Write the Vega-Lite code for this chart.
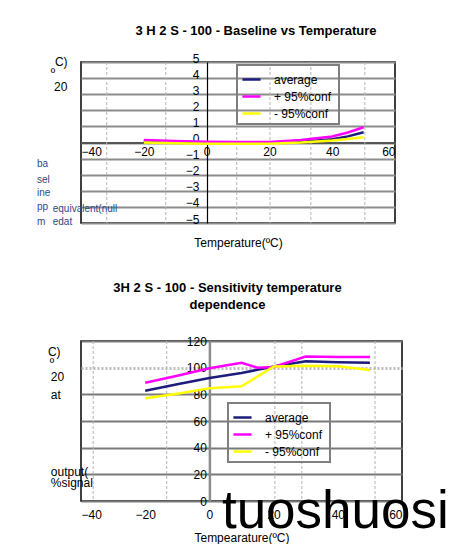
{
  "$schema": "https://vega.github.io/schema/vega-lite/v6.json",
  "background": "white",
  "padding": {"left": 36, "top": 24, "right": 0, "bottom": 0},
  "config": {
    "font": "Liberation Sans",
    "view": {"stroke": "black", "strokeWidth": 1.5},
    "axis": {
      "labelFont": "Liberation Sans", "labelFontSize": 12, "labelColor": "black",
      "ticks": false, "titleFont": "Liberation Sans", "titleFontSize": 12,
      "titleFontWeight": "normal", "titleColor": "black"
    },
    "legend": {
      "title": null, "orient": "none", "strokeColor": "#7f7f7f", "strokeWidth": 2,
      "padding": 4, "symbolType": "stroke", "symbolStrokeWidth": 2.5, "symbolSize": 330,
      "labelFont": "Liberation Sans", "labelFontSize": 12, "labelColor": "black",
      "rowPadding": -5, "labelOffset": 12
    },
    "title": {"font": "Liberation Sans", "fontSize": 13, "fontWeight": "bold", "color": "black", "frame": "group"}
  },
  "datasets": {
    "baseline": [
      {"temp": -20, "value": 0.08, "series": "average"},
      {"temp": -10, "value": 0.03, "series": "average"},
      {"temp": 0, "value": 0.0, "series": "average"},
      {"temp": 10, "value": 0.0, "series": "average"},
      {"temp": 20, "value": 0.0, "series": "average"},
      {"temp": 30, "value": 0.05, "series": "average"},
      {"temp": 40, "value": 0.2, "series": "average"},
      {"temp": 45, "value": 0.38, "series": "average"},
      {"temp": 50, "value": 0.64, "series": "average"},
      {"temp": -20, "value": 0.15, "series": "+  95%conf"},
      {"temp": -10, "value": 0.1, "series": "+  95%conf"},
      {"temp": 0, "value": 0.05, "series": "+  95%conf"},
      {"temp": 10, "value": 0.03, "series": "+  95%conf"},
      {"temp": 20, "value": 0.03, "series": "+  95%conf"},
      {"temp": 30, "value": 0.15, "series": "+  95%conf"},
      {"temp": 40, "value": 0.37, "series": "+  95%conf"},
      {"temp": 45, "value": 0.62, "series": "+  95%conf"},
      {"temp": 50, "value": 0.95, "series": "+  95%conf"},
      {"temp": -20, "value": 0.0, "series": "-  95%conf"},
      {"temp": -10, "value": -0.05, "series": "-  95%conf"},
      {"temp": 0, "value": -0.07, "series": "-  95%conf"},
      {"temp": 10, "value": -0.08, "series": "-  95%conf"},
      {"temp": 20, "value": -0.07, "series": "-  95%conf"},
      {"temp": 30, "value": 0.0, "series": "-  95%conf"},
      {"temp": 40, "value": 0.12, "series": "-  95%conf"},
      {"temp": 45, "value": 0.22, "series": "-  95%conf"},
      {"temp": 50, "value": 0.33, "series": "-  95%conf"}
    ],
    "sensitivity": [
      {"temp": -20, "value": 82.7, "series": "average"},
      {"temp": -10, "value": 87.5, "series": "average"},
      {"temp": 0, "value": 92.3, "series": "average"},
      {"temp": 10, "value": 96, "series": "average"},
      {"temp": 20, "value": 100.8, "series": "average"},
      {"temp": 30, "value": 104.8, "series": "average"},
      {"temp": 40, "value": 104, "series": "average"},
      {"temp": 50, "value": 103.7, "series": "average"},
      {"temp": -20, "value": 88.7, "series": "+  95%conf"},
      {"temp": -10, "value": 94, "series": "+  95%conf"},
      {"temp": 0, "value": 99.5, "series": "+  95%conf"},
      {"temp": 10, "value": 103.7, "series": "+  95%conf"},
      {"temp": 15, "value": 100, "series": "+  95%conf"},
      {"temp": 20, "value": 100.5, "series": "+  95%conf"},
      {"temp": 30, "value": 108.3, "series": "+  95%conf"},
      {"temp": 40, "value": 108, "series": "+  95%conf"},
      {"temp": 50, "value": 108, "series": "+  95%conf"},
      {"temp": -20, "value": 77, "series": "-  95%conf"},
      {"temp": -10, "value": 80.5, "series": "-  95%conf"},
      {"temp": 0, "value": 84.5, "series": "-  95%conf"},
      {"temp": 10, "value": 86, "series": "-  95%conf"},
      {"temp": 20, "value": 100.8, "series": "-  95%conf"},
      {"temp": 30, "value": 101.5, "series": "-  95%conf"},
      {"temp": 40, "value": 101, "series": "-  95%conf"},
      {"temp": 50, "value": 98.3, "series": "-  95%conf"}
    ],
    "sheetTop": [
      {"temp": -31.8}, {"temp": -13.0}, {"temp": 9.6}, {"temp": 20.2}, {"temp": 33.2}, {"temp": 50.4}
    ],
    "sheetBottom": [
      {"temp": -36.2}, {"temp": -13.3}, {"temp": 20.4}, {"temp": 28.8}, {"temp": 51.6}
    ],
    "notesTop": [
      {"temp": -48.3, "value": 5.0, "label": "C)", "kind": "unit"},
      {"temp": -49.6, "value": 4.3, "label": "º", "kind": "unit"},
      {"temp": -48.6, "value": 3.47, "label": "20", "kind": "unit"},
      {"temp": -54.0, "value": -1.34, "label": "ba", "kind": "side"},
      {"temp": -54.0, "value": -2.33, "label": "sel", "kind": "side"},
      {"temp": -54.0, "value": -3.14, "label": "ine", "kind": "side"},
      {"temp": -54.0, "value": -4.0, "label": "pp", "kind": "side"},
      {"temp": -54.0, "value": -4.94, "label": "m", "kind": "side"},
      {"temp": -49.0, "value": -4.13, "label": "equivalent(null", "kind": "side"},
      {"temp": -49.0, "value": -4.94, "label": "edat", "kind": "side"}
    ],
    "notesBottom": [
      {"temp": -50.3, "value": 111.8, "label": "C)", "kind": "unit"},
      {"temp": -49.7, "value": 103.5, "label": "º", "kind": "unit"},
      {"temp": -49.4, "value": 93, "label": "20", "kind": "unit"},
      {"temp": -49.4, "value": 79.5, "label": "at", "kind": "unit"},
      {"temp": -49.4, "value": 21.8, "label": "output(", "kind": "unit"},
      {"temp": -49.4, "value": 13.5, "label": "%signal", "kind": "unit"},
      {"temp": 3.9, "value": -20.3, "label": "tuoshuosi", "kind": "mark"}
    ]
  },
  "bounds": "flush",
  "spacing": 118,
  "resolve": {"legend": {"color": "independent"}, "scale": {"color": "independent"}},
  "vconcat": [
    {
      "width": 314,
      "height": 161,
      "title": {"text": "3 H 2 S - 100 - Baseline  vs  Temperature", "dx": 18, "offset": 14},
      "encoding": {
        "x": {
          "field": "temp", "type": "quantitative",
          "scale": {"domain": [-40, 60], "nice": false},
          "axis": {
            "values": [-40, -20, 0, 20, 40, 60], "offset": -80.5, "grid": false,
            "domainColor": "#555555", "domainWidth": 2, "labelPadding": 4,
            "title": "Temperature(ºC)", "titleY": 100, "titleBaseline": "middle"
          }
        }
      },
      "layer": [
        {
          "data": {"name": "sheetTop"},
          "mark": {"type": "rule", "color": "#b4b4b4", "strokeDash": [3, 2], "strokeWidth": 1},
          "encoding": {
            "y": {
              "datum": 5, "type": "quantitative",
              "scale": {"domain": [-5, 5], "nice": false},
              "axis": {
                "values": [-5, -4, -3, -2, -1, 0, 1, 2, 3, 4, 5], "offset": -126,
                "domainColor": "black", "domainWidth": 1.2, "grid": true,
                "gridColor": "#8c8c8c", "gridWidth": 2, "labelOffset": -4, "labelPadding": 8,
                "title": null
              }
            },
            "y2": {"datum": -5}
          }
        },
        {
          "encoding": {
            "y": {
              "field": "value", "type": "quantitative",
              "scale": {"domain": [-5, 5], "nice": false},
              "axis": {
                "values": [-5, -4, -3, -2, -1, 0, 1, 2, 3, 4, 5], "offset": -126,
                "domainColor": "black", "domainWidth": 1.2, "grid": true,
                "gridColor": "#8c8c8c", "gridWidth": 2, "labelOffset": -4, "labelPadding": 8,
                "title": null
              }
            }
          },
          "layer": [
            {
              "data": {"name": "baseline"},
              "mark": {"type": "line", "strokeWidth": 2.5},
              "encoding": {
                "color": {
                  "field": "series", "type": "nominal",
                  "scale": {"domain": ["average", "+  95%conf", "-  95%conf"], "range": ["#1c1c7c", "#ff00ff", "#ffff00"]},
                  "legend": {"legendX": 156, "legendY": 3}
                }
              }
            },
            {
              "data": {"name": "notesTop"},
              "transform": [{"filter": "datum.kind == 'unit'"}],
              "mark": {"type": "text", "align": "left", "baseline": "middle", "fontSize": 12, "color": "black"},
              "encoding": {"text": {"field": "label"}}
            },
            {
              "data": {"name": "notesTop"},
              "transform": [{"filter": "datum.kind == 'side'"}],
              "mark": {"type": "text", "align": "left", "baseline": "middle", "fontSize": 10, "color": "#2a4a8a"},
              "encoding": {"text": {"field": "label"}}
            }
          ]
        }
      ]
    },
    {
      "width": 321,
      "height": 160,
      "title": {"text": ["3H 2 S - 100 - Sensitivity  temperature", "dependence"], "dx": -14, "lineHeight": 17, "offset": 23},
      "encoding": {
        "x": {
          "field": "temp", "type": "quantitative",
          "scale": {"domain": [-40, 60], "nice": false},
          "axis": {
            "values": [-40, -20, 0, 20, 40, 60], "grid": false, "domain": false,
            "labelPadding": 8, "title": "Tempearature(ºC)", "titlePadding": 12
          }
        }
      },
      "layer": [
        {
          "data": {"name": "sheetBottom"},
          "mark": {"type": "rule", "color": "#b4b4b4", "strokeDash": [3, 2], "strokeWidth": 1},
          "encoding": {
            "y": {
              "datum": 120, "type": "quantitative",
              "scale": {"domain": [0, 120], "nice": false},
              "axis": {
                "values": [0, 20, 40, 60, 80, 100, 120], "offset": -128.4,
                "domainColor": "#8c8c8c", "domainWidth": 2.5, "grid": true,
                "gridColor": {"condition": {"test": "datum.value == 100", "value": "#bdbdbd"}, "value": "#7a7a7a"},
                "gridDash": {"condition": {"test": "datum.value == 100", "value": [2, 2]}, "value": []},
                "gridWidth": {"condition": {"test": "datum.value == 100", "value": 3}, "value": 2},
                "labelPadding": 3, "title": null
              }
            },
            "y2": {"datum": 0}
          }
        },
        {
          "encoding": {
            "y": {
              "field": "value", "type": "quantitative",
              "scale": {"domain": [0, 120], "nice": false},
              "axis": {
                "values": [0, 20, 40, 60, 80, 100, 120], "offset": -128.4,
                "domainColor": "#8c8c8c", "domainWidth": 2.5, "grid": true,
                "gridColor": {"condition": {"test": "datum.value == 100", "value": "#bdbdbd"}, "value": "#7a7a7a"},
                "gridDash": {"condition": {"test": "datum.value == 100", "value": [2, 2]}, "value": []},
                "gridWidth": {"condition": {"test": "datum.value == 100", "value": 3}, "value": 2},
                "labelPadding": 3, "title": null
              }
            }
          },
          "layer": [
            {
              "data": {"name": "sensitivity"},
              "mark": {"type": "line", "strokeWidth": 2.5},
              "encoding": {
                "color": {
                  "field": "series", "type": "nominal",
                  "scale": {"domain": ["average", "+  95%conf", "-  95%conf"], "range": ["#1c1c7c", "#ff00ff", "#ffff00"]},
                  "legend": {"legendX": 147, "legendY": 62}
                }
              }
            },
            {
              "data": {"name": "notesBottom"},
              "transform": [{"filter": "datum.kind == 'unit'"}],
              "mark": {"type": "text", "align": "left", "baseline": "middle", "fontSize": 12, "color": "black"},
              "encoding": {"text": {"field": "label"}}
            },
            {
              "data": {"name": "notesBottom"},
              "transform": [{"filter": "datum.kind == 'mark'"}],
              "mark": {"type": "text", "align": "left", "baseline": "alphabetic", "fontSize": 53, "color": "black"},
              "encoding": {"text": {"field": "label"}}
            }
          ]
        }
      ]
    }
  ]
}
